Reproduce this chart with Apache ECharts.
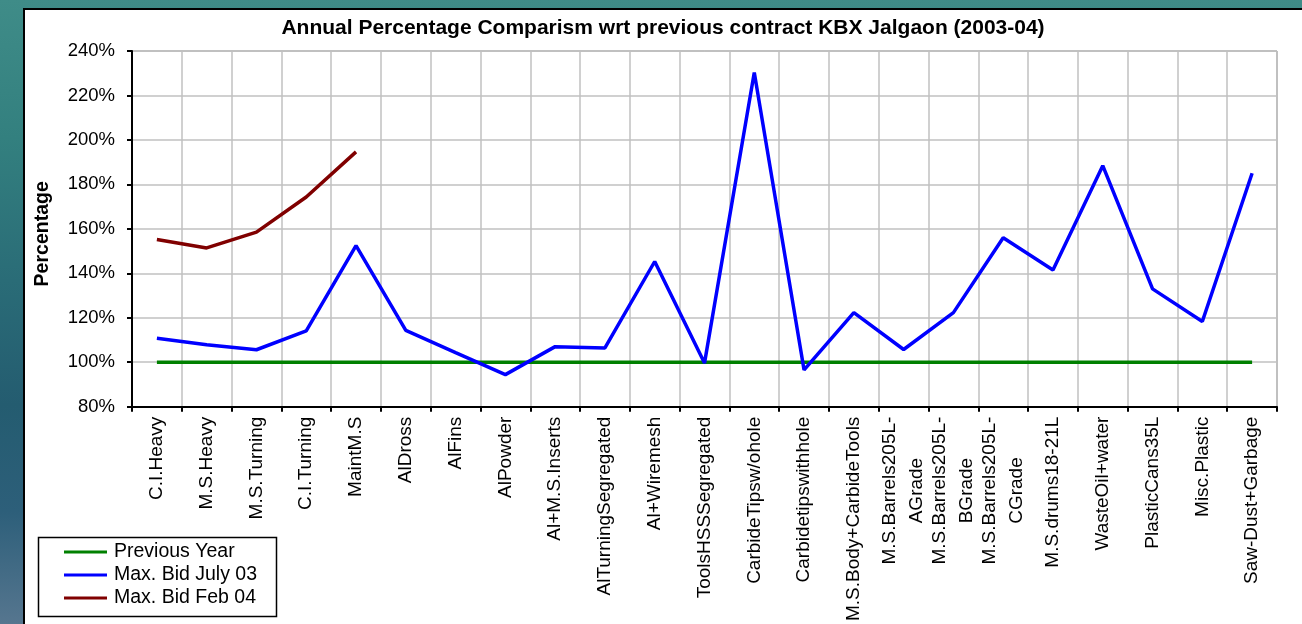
<!DOCTYPE html>
<html>
<head>
<meta charset="utf-8">
<script src="https://cdn.jsdelivr.net/npm/echarts@6/dist/echarts.min.js"></script>
<style>
  html, body { margin: 0; padding: 0; width: 1302px; height: 624px; overflow: hidden; }
  body { background: linear-gradient(180deg, #3f8c88 0%, #33807f 22%, #2a6c77 45%, #245c70 65%, #2d5f7a 82%, #56768f 100%); }
  #chart { width: 1302px; height: 624px; }
</style>
</head>
<body>
<div id="chart"></div>
<script>
const categories = [
  'C.I.Heavy', 'M.S.Heavy', 'M.S.Turning', 'C.I.Turning', 'MaintM.S', 'AlDross', 'AlFins',
  'AlPowder', 'Al+M.S.Inserts', 'AlTurningSegregated', 'Al+Wiremesh', 'ToolsHSSSegregated',
  'CarbideTipsw/ohole', 'Carbidetipswithhole', 'M.S.Body+CarbideTools',
  'M.S.Barrels205L-\nAGrade', 'M.S.Barrels205L-\nBGrade', 'M.S.Barrels205L-\nCGrade',
  'M.S.drums18-21L', 'WasteOil+water', 'PlasticCans35L', 'Misc.Plastic', 'Saw-Dust+Garbage'
];
const previousYear = [100, 100, 100, 100, 100, 100, 100, 100, 100, 100, 100, 100,
  100, 100, 100, 100, 100, 100, 100, 100, 100, 100, 100];
const maxBidJuly03 = [110.8, 107.8, 105.6, 114.1, 152.4, 114.3, 104.3, 94.4, 107.0, 106.4,
  145.3, 99.6, 230.3, 96.5, 122.3, 105.7, 122.3, 156.0, 141.5, 188.4, 133.0, 118.3, 185.0];
const maxBidFeb04 = [155.2, 151.4, 158.5, 174.3, 194.6];
const seriesNames = ['Previous Year', 'Max. Bid July 03', 'Max. Bid Feb 04'];
const titleText = 'Annual Percentage Comparism wrt previous contract KBX Jalgaon (2003-04)';
const yAxisName = 'Percentage';
const yTicks = { min: 80, max: 240, step: 20 };

const FONT = "'Liberation Sans', Arial, sans-serif";
const chart = echarts.init(document.getElementById('chart'), null, { renderer: 'canvas' });

chart.setOption({
  animation: false,
  backgroundColor: 'transparent',
  title: {
    text: titleText,
    left: 663,
    textAlign: 'center',
    top: 18,
    padding: 0,
    textStyle: { fontFamily: FONT, fontSize: 21, fontWeight: 'bold', color: '#000' }
  },
  graphic: [
    {
      type: 'rect', z: -10, silent: true,
      shape: { x: 24, y: 9, width: 1300, height: 700 },
      style: { fill: '#ffffff', stroke: '#000000', lineWidth: 2 }
    },
    {
      type: 'rect', z: 50, silent: true,
      shape: { x: 38.5, y: 537.5, width: 238, height: 79 },
      style: { fill: '#ffffff', stroke: '#000000', lineWidth: 1.5 }
    }
  ],
  legend: {
    orient: 'vertical',
    left: 64,
    top: 542,
    padding: 0,
    itemGap: 3,
    itemWidth: 43,
    itemHeight: 3,
    icon: 'rect',
    z: 60,
    data: seriesNames,
    textStyle: { fontFamily: FONT, fontSize: 19.5, color: '#000', lineHeight: 20, padding: [0, 0, 0, 2] }
  },
  grid: {
    left: 132, top: 51, right: 25, bottom: 215,
    show: true, borderColor: '#808080', borderWidth: 1, backgroundColor: 'transparent'
  },
  xAxis: {
    type: 'category',
    data: categories,
    boundaryGap: true,
    axisLine: { show: true, lineStyle: { color: '#000', width: 2 } },
    axisTick: { show: true, inside: false, length: 5, lineStyle: { color: '#000', width: 2 } },
    splitLine: { show: true, lineStyle: { color: '#c0c0c0', width: 1.5 } },
    axisLabel: {
      interval: 0,
      rotate: 90,
      margin: 10,
      color: '#000',
      fontFamily: FONT,
      fontSize: 19,
      formatter: function (v) {
        return v.split('\n').map(function (s) { return '{c|' + s + '}'; }).join('\n');
      },
      rich: {
        c: { align: 'center', fontFamily: FONT, fontSize: 19, lineHeight: 27, color: '#000' }
      }
    }
  },
  yAxis: {
    type: 'value',
    min: yTicks.min,
    max: yTicks.max,
    interval: yTicks.step,
    name: yAxisName,
    nameLocation: 'middle',
    nameRotate: 90,
    nameGap: 79,
    nameTextStyle: { fontFamily: FONT, fontSize: 19.5, fontWeight: 'bold', color: '#000', padding: [0, 10, 0, 0] },
    axisLine: { show: true, lineStyle: { color: '#000', width: 2 } },
    axisTick: { show: true, inside: false, length: 5, lineStyle: { color: '#000', width: 2 } },
    splitLine: { show: true, lineStyle: { color: '#c0c0c0', width: 1.5 } },
    axisLabel: {
      margin: 17,
      color: '#000',
      fontFamily: FONT,
      fontSize: 18.5,
      formatter: '{value}%'
    }
  },
  series: [
    {
      name: seriesNames[0], type: 'line', data: previousYear, symbol: 'none',
      color: '#008000', lineStyle: { color: '#008000', width: 3.5 }, z: 3
    },
    {
      name: seriesNames[1], type: 'line', data: maxBidJuly03, symbol: 'none',
      color: '#0000ff', lineStyle: { color: '#0000ff', width: 3.5 }, z: 4
    },
    {
      name: seriesNames[2], type: 'line', data: maxBidFeb04, symbol: 'none',
      color: '#800000', lineStyle: { color: '#800000', width: 3.5 }, z: 5
    }
  ]
});
</script>
</body>
</html>
